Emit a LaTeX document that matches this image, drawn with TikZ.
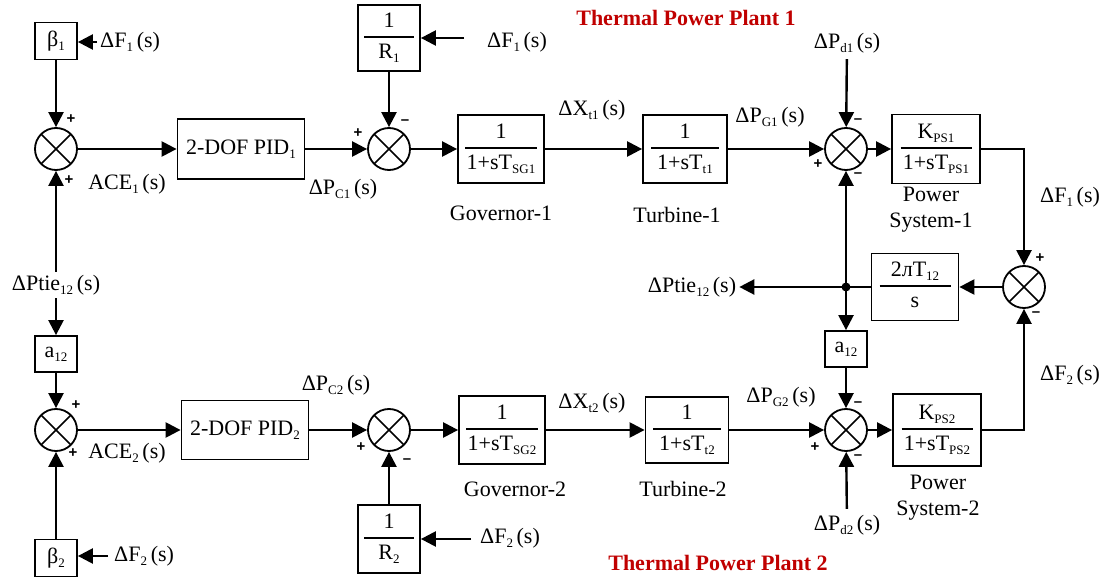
\documentclass[tikz,border=0pt]{standalone}
\usepackage{fontspec}
\setmainfont{Liberation Serif}
\setsansfont{Liberation Sans}
\usepackage{xcolor}
\usepackage{tikz}
\usetikzlibrary{arrows.meta,positioning,calc}
\definecolor{plantred}{RGB}{192,0,0}
\setlength{\arrayrulewidth}{1.6pt}
\newcommand{\lo}[1]{\raisebox{-4pt}{\fontsize{13}{13}\selectfont #1}}
\newcommand{\frc}[3]{\begin{tabular}{@{}c@{}}\makebox[#1]{#2}\\[1pt]\hline\rule{0pt}{21pt}#3\end{tabular}}
\tikzset{
  blk/.style={draw, line width=1.8pt, inner sep=2pt, align=center},
  sumj/.style={circle, draw, line width=1.8pt, minimum size=42pt, inner sep=0pt,
    path picture={\draw[line width=1.6pt] (path picture bounding box.north west) -- (path picture bounding box.south east)
      (path picture bounding box.north east) -- (path picture bounding box.south west);}},
  sig/.style={font=\sffamily\bfseries\fontsize{15}{15}\selectfont, inner sep=0pt},
  lbl/.style={inner sep=3pt, align=center},
  flow/.style={line width=2.4pt, -{Triangle[length=15pt,width=15pt]}},
  wire/.style={line width=2.4pt},
  ttl/.style={font=\bfseries\fontsize{22}{26}\selectfont, text=plantred}
}
\begin{document}
\begin{tikzpicture}[x=1pt, y=-1pt, font=\fontsize{22}{26}\selectfont]
  \useasboundingbox (0,0) rectangle (1112,580);
  % plant 1
  \node[blk, minimum width=42pt, minimum height=37pt] (b1) at (56,41) {β\lo{1}};
  \node[sumj] (s1) at (56,149) {};
  \node[blk, minimum width=127pt, minimum height=60pt] (pid1) at (241,149) {2-DOF PID\lo{1}};
  \node[sumj] (s2) at (389,149) {};
  \node[blk, minimum width=62pt, minimum height=66pt] (r1) at (389,38) {\frc{50pt}{1}{R\lo{1}}};
  \node[blk, minimum width=86pt, minimum height=68pt] (gov1) at (501,149) {\frc{72pt}{1}{1+sT\lo{SG1}}};
  \node[blk, minimum width=84pt, minimum height=68pt] (tur1) at (685,149) {\frc{68pt}{1}{1+sT\lo{t1}}};
  \node[sumj] (s3) at (846,149) {};
  \node[blk, minimum width=88pt, minimum height=69pt] (ps1) at (936,149) {\frc{71pt}{K\lo{PS1}}{1+sT\lo{PS1}}};
  % tie line
  \node[sumj] (s4) at (1024,287) {};
  \node[blk, minimum width=87pt, minimum height=67pt] (tie) at (915,287) {\frc{71pt}{2лT\lo{12}}{s}};
  \coordinate (jn) at (846,287);
  \node[blk, minimum width=42pt, minimum height=36pt] (a2) at (846,349) {a\lo{12}};
  % plant 2
  \node[blk, minimum width=42pt, minimum height=36pt] (a1) at (56,354) {a\lo{12}};
  \node[sumj] (s6) at (56,430) {};
  \node[blk, minimum width=42pt, minimum height=37pt] (b2) at (56,558) {β\lo{2}};
  \node[blk, minimum width=127pt, minimum height=59pt] (pid2) at (245,430) {2-DOF PID\lo{2}};
  \node[sumj] (s7) at (389,430) {};
  \node[blk, minimum width=62pt, minimum height=68pt] (r2) at (389,539) {\frc{50pt}{1}{R\lo{2}}};
  \node[blk, minimum width=86pt, minimum height=68pt] (gov2) at (502,430) {\frc{72pt}{1}{1+sT\lo{SG2}}};
  \node[blk, minimum width=83pt, minimum height=66pt] (tur2) at (687,430) {\frc{68pt}{1}{1+sT\lo{t2}}};
  \node[sumj] (s5) at (846,430) {};
  \node[blk, minimum width=88pt, minimum height=72pt] (ps2) at (937,430) {\frc{71pt}{K\lo{PS2}}{1+sT\lo{PS2}}};

  % labels
  \node[lbl, anchor=west] (f1a) at (97,42) {ΔF\lo{1}\,(s)};
  \node[lbl] (tieA) at (56,285) {ΔPtie\lo{12}\,(s)};
  \node[lbl] at (127,184) {ACE\lo{1}\,(s)};
  \node[lbl] at (343,189) {ΔP\lo{C1}\,(s)};
  \node[lbl] (f1b) at (517,42) {ΔF\lo{1}\,(s)};
  \coordinate (r1in) at (464,38);
  \node[lbl] at (592,110) {ΔX\lo{t1}\,(s)};
  \node[lbl] at (501,213) {Governor-1};
  \node[lbl] at (677,215) {Turbine-1};
  \node[lbl] at (770,117) {ΔP\lo{G1}\,(s)};
  \node[lbl, inner sep=6pt] (d1) at (847,43) {ΔP\lo{d1}\,(s)};
  \node[lbl] at (931,210) {Power\\System-1};
  \node[lbl] at (1070,197) {ΔF\lo{1}\,(s)};
  \node[lbl] (tieB) at (692,287) {ΔPtie\lo{12}\,(s)};
  \node[lbl] at (1070,375) {ΔF\lo{2}\,(s)};
  \node[lbl] at (781,397) {ΔP\lo{G2}\,(s)};
  \node[lbl, inner sep=6pt] (d2) at (847,525) {ΔP\lo{d2}\,(s)};
  \node[lbl] at (938,498) {Power\\System-2};
  \node[lbl] at (127,453) {ACE\lo{2}\,(s)};
  \node[lbl] at (336,385) {ΔP\lo{C2}\,(s)};
  \node[lbl] at (592,403) {ΔX\lo{t2}\,(s)};
  \node[lbl] at (515,489) {Governor-2};
  \node[lbl] at (683,489) {Turbine-2};
  \node[lbl] (f2b) at (510,538) {ΔF\lo{2}\,(s)};
  \coordinate (r2in) at (471,539);
  \node[lbl, anchor=west, inner sep=6pt] (f2a) at (108,556) {ΔF\lo{2}\,(s)};
  \node[ttl] at (686,18) {Thermal Power Plant 1};
  \node[ttl] at (718,563) {Thermal Power Plant 2};

  % signs
  \node[sig] at (71,119) {+};
  \node[sig] at (69,180) {+};
  \node[sig] at (358,133) {+};
  \node[sig] at (405,122) {–};
  \node[sig] at (858,121) {–};
  \node[sig] at (818,164) {+};
  \node[sig] at (858,175) {–};
  \node[sig] at (1040,258) {+};
  \node[sig] at (1036,314) {–};
  \node[sig] at (858,404) {–};
  \node[sig] at (815,447) {+};
  \node[sig] at (858,457) {–};
  \node[sig] at (76,405) {+};
  \node[sig] at (73,453) {+};
  \node[sig] at (361,447) {+};
  \node[sig] at (407,461) {–};

  % connectors
  \draw[flow] (f1a.west) -- (f1a.west -| b1.east);
  \draw[flow] (b1) -- (s1);
  \draw[flow] (tieA) -- (s1);
  \draw[flow] (s1) -- (pid1);
  \draw[flow] (pid1) -- (s2);
  \draw[flow] (r1in) -- (r1);
  \draw[flow] (r1) -- (s2);
  \draw[flow] (s2) -- (gov1);
  \draw[flow] (gov1) -- (tur1);
  \draw[flow] (tur1) -- (s3);
  \draw[flow] (d1) -- (s3);
  \draw[flow] (s3) -- (ps1);
  \draw[flow] (ps1.east) -| (s4.north);
  \draw[flow] (ps2.east) -| (s4.south);
  \draw[flow] (s4) -- (tie);
  \draw[wire] (tie.west) -- (jn);
  \draw[flow] (jn) -- (tieB.east);
  \draw[flow] (jn) -- (s3);
  \draw[flow] (jn) -- (a2);
  \fill (jn) circle (4.5pt);
  \draw[flow] (a2) -- (s5);
  \draw[flow] (d2) -- (s5);
  \draw[flow] (tieA) -- (a1);
  \draw[flow] (a1) -- (s6);
  \draw[flow] (b2) -- (s6);
  \draw[flow] (f2a.west) -- (f2a.west -| b2.east);
  \draw[flow] (s6) -- (pid2);
  \draw[flow] (pid2) -- (s7);
  \draw[flow] (r2in) -- (r2);
  \draw[flow] (r2) -- (s7);
  \draw[flow] (s7) -- (gov2);
  \draw[flow] (gov2) -- (tur2);
  \draw[flow] (tur2) -- (s5);
  \draw[flow] (s5) -- (ps2);
\end{tikzpicture}
\end{document}
